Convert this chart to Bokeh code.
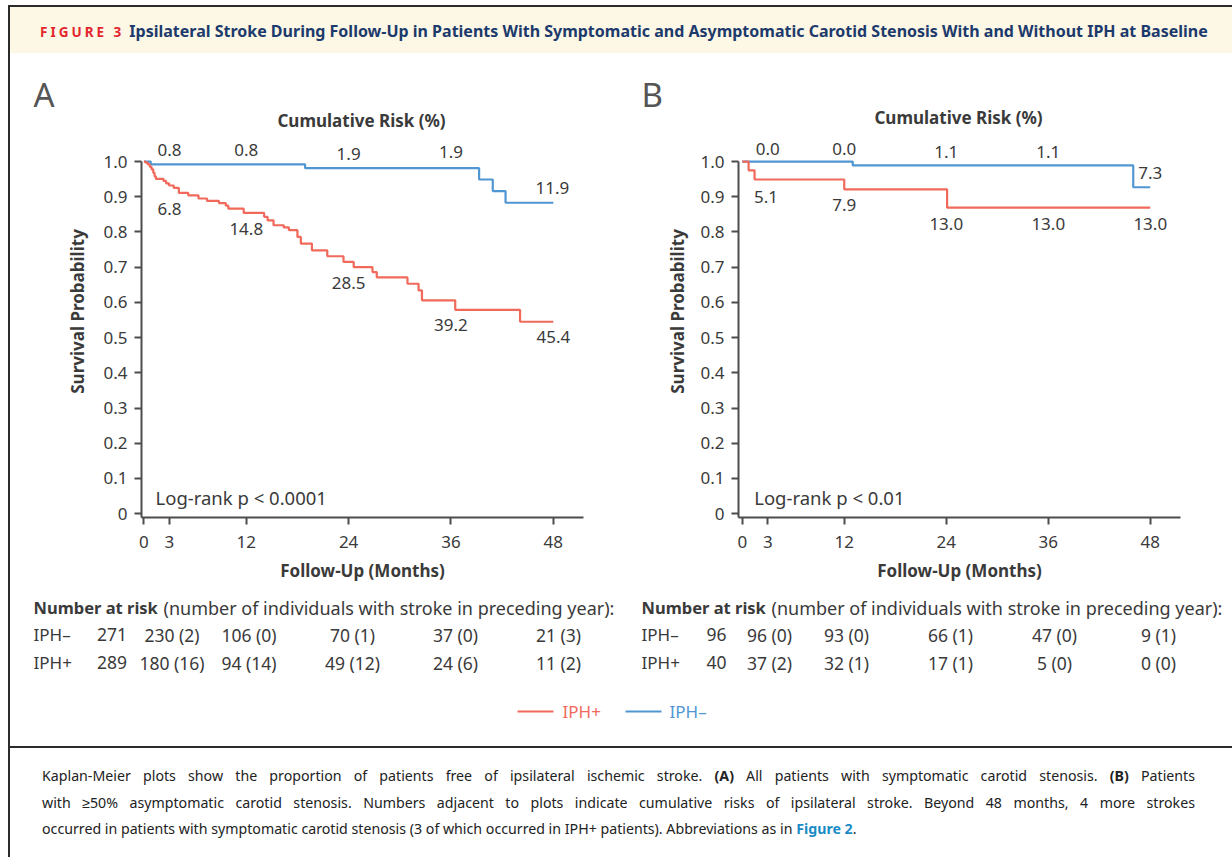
import math
from bokeh.plotting import figure
from bokeh.models import Range1d, FixedTicker, Div
from bokeh.layouts import column, row
from bokeh.embed import file_html
from bokeh.resources import INLINE
from bokeh.core.properties import value

# ---------------- data ----------------
month_ticks = [0, 3, 12, 24, 36, 48]
surv_ticks = [0, 0.1, 0.2, 0.3, 0.4, 0.5, 0.6, 0.7, 0.8, 0.9, 1.0]

# Panel A: symptomatic carotid stenosis (Kaplan-Meier step estimates)
a_pos_time = [0, 0.2, 0.45, 0.7, 0.9, 1.1, 1.25, 1.4, 2.3, 2.6, 2.95, 3.5, 4.1, 5.2, 6.4,
              7.4, 8.8, 9.6, 9.9, 11.7, 14.1, 14.5, 15.2, 16.4, 17.0, 18.0, 18.4, 19.7,
              21.5, 23.4, 24.6, 26.8, 27.3, 30.9, 32.2, 32.6, 36.5, 44.1, 48]
a_pos_surv = [1.0, 0.997, 0.992, 0.985, 0.978, 0.968, 0.958, 0.951, 0.945, 0.938, 0.932,
              0.925, 0.911, 0.904, 0.895, 0.888, 0.882, 0.875, 0.866, 0.854, 0.843, 0.833,
              0.819, 0.813, 0.805, 0.786, 0.767, 0.748, 0.731, 0.715, 0.700, 0.686, 0.671,
              0.653, 0.634, 0.606, 0.579, 0.545, 0.545]
a_neg_time = [0, 0.8, 18.9, 39.3, 40.9, 42.4, 48]
a_neg_surv = [1.0, 0.992, 0.981, 0.949, 0.916, 0.883, 0.883]

# Panel B: asymptomatic carotid stenosis
b_pos_time = [0, 0.75, 1.45, 12.0, 24.1, 48]
b_pos_surv = [1.0, 0.975, 0.949, 0.921, 0.869, 0.869]
b_neg_time = [0, 13.0, 46.0, 48]
b_neg_surv = [1.0, 0.989, 0.927, 0.927]

# cumulative risk (%) annotations
risk_months = [3, 12, 24, 36, 48]
a_neg_risk = ["0.8", "0.8", "1.9", "1.9", "11.9"]
a_pos_risk = ["6.8", "14.8", "28.5", "39.2", "45.4"]
b_neg_risk = ["0.0", "0.0", "1.1", "1.1", "7.3"]
b_pos_risk = ["5.1", "7.9", "13.0", "13.0", "13.0"]

# numbers at risk
risk_groups = ["IPH\u2013", "IPH+"]
a_neg_at_risk = ["271", "230 (2)", "106 (0)", "70 (1)", "37 (0)", "21 (3)"]
a_pos_at_risk = ["289", "180 (16)", "94 (14)", "49 (12)", "24 (6)", "11 (2)"]
b_neg_at_risk = ["96", "96 (0)", "93 (0)", "66 (1)", "47 (0)", "9 (1)"]
b_pos_at_risk = ["40", "37 (2)", "32 (1)", "17 (1)", "5 (0)", "0 (0)"]

logrank_a = "Log-rank p < 0.0001"
logrank_b = "Log-rank p < 0.01"

# ---------------- layout / style (positions, not data) ----------------
FONT = "Noto Sans"
TXT = "#3a3a3a"
RED = "#f0695a"
BLUE = "#5096d2"
AXC = "#4d4d4d"
DARK = "#2b2b2b"

a_neg_lab_y = [1.034, 1.034, 1.020, 1.026, 0.925]
a_pos_lab_y = [0.864, 0.807, 0.655, 0.535, 0.501]
b_neg_lab_y = [1.037, 1.037, 1.027, 1.027, 0.968]
b_pos_lab_y = [0.899, 0.876, 0.824, 0.824, 0.824]
b_pos_lab_dx = [-0.2, 0, 0, 0, 0]
a_neg_lab_dx = [0, 0, 0, 0, -0.1]


def canvas(w, h, flip=True):
    p = figure(width=w, height=h, x_range=Range1d(0, w),
               y_range=Range1d(h, 0) if flip else Range1d(0, h),
               min_border=0, x_axis_type=None, y_axis_type=None,
               toolbar_location=None, output_backend="svg")
    p.outline_line_color = None
    p.grid.visible = False
    return p


def text(p, xs, ys, ts, size="16px", color=TXT, align="center", baseline="middle",
         style="normal", angle=0.0):
    p.text(x=xs, y=ys, text=ts, text_font=value(FONT), text_font_size=size,
           text_color=color, text_align=align, text_baseline=baseline,
           text_font_style=style, angle=angle)


def km_panel(w, ml, mr, x_start, px_per_month, pos, neg, pos_lab, neg_lab, logrank):
    frame_w = w - ml - mr
    p = figure(width=w, height=458,
               x_range=Range1d(x_start, x_start + frame_w / px_per_month),
               y_range=Range1d(-0.0108, 1.0654),
               min_border_left=ml, min_border_right=mr, min_border_top=6,
               min_border_bottom=73, toolbar_location=None, output_backend="svg")
    p.outline_line_color = None
    p.grid.visible = False
    p.xaxis.ticker = FixedTicker(ticks=month_ticks)
    p.yaxis.ticker = FixedTicker(ticks=surv_ticks)
    p.yaxis.major_label_overrides = {0: "0", 1: "1.0"}
    p.yaxis.bounds = (-0.0108, 1.0)
    p.xaxis.axis_label = "Follow-Up (Months)"
    for ax in p.axis:
        ax.axis_line_width = 2
        ax.axis_line_color = AXC
        ax.major_tick_line_width = 2
        ax.major_tick_line_color = AXC
        ax.major_tick_out = 7
        ax.major_tick_in = 0
        ax.minor_tick_line_color = None
        ax.major_label_text_font = FONT
        ax.major_label_text_font_size = "17px"
        ax.major_label_text_color = TXT
        ax.axis_label_text_font = FONT
        ax.axis_label_text_font_size = "17px"
        ax.axis_label_text_font_style = "bold"
        ax.axis_label_text_color = TXT
    p.xaxis.major_label_standoff = 11
    p.xaxis.axis_label_standoff = 8
    p.yaxis.major_label_standoff = 7

    p.step(neg[0], neg[1], mode="after", line_color=BLUE, line_width=2.2)
    p.step(pos[0], pos[1], mode="after", line_color=RED, line_width=2.2)

    text(p, neg_lab[0], neg_lab[1], neg_lab[2], size="17px")
    text(p, pos_lab[0], pos_lab[1], pos_lab[2], size="17px")
    text(p, [logrank[0]], [0.046], [logrank[1]], align="left", size="18.5px")
    return p


def ylabel_fig(w, x_local):
    p = canvas(w, 458, flip=False)
    text(p, [x_local], [458 - 209], ["Survival Probability"], size="17px",
         style="bold", angle=math.pi / 2)
    return p


def strip_fig(w, letter_x, title_x, title_y, letter):
    p = canvas(w, 79)
    text(p, [letter_x], [41], [letter], size="33px", color="#555555", align="left")
    text(p, [title_x], [title_y], ["Cumulative Risk (%)"], size="17px", style="bold")
    return p


def table_fig(w, left_x, cols, neg_vals, pos_vals, rest_x):
    p = canvas(w, 98)
    text(p, [left_x], [17], ["Number at risk"], align="left", style="bold", size="16.5px")
    text(p, [rest_x], [17], ["(number of individuals with stroke in preceding year):"],
         align="left", size="18px")
    text(p, [left_x, left_x], [44, 72], risk_groups, align="left", size="17px")
    text(p, cols, [44] * len(cols), neg_vals, size="17.5px")
    text(p, cols, [72] * len(cols), pos_vals, size="17.5px")
    return p


# ---- panel A ----
stripA = strip_fig(610, 23, 351, 67, "A")
ylabA = ylabel_fig(80, 67)
kmA = km_panel(530, 51, 37, -0.28, 8.53,
               (a_pos_time, a_pos_surv), (a_neg_time, a_neg_surv),
               ([m for m in risk_months], a_pos_lab_y, a_pos_risk),
               ([m + d for m, d in zip(risk_months, a_neg_lab_dx)], a_neg_lab_y, a_neg_risk),
               (1.36, logrank_a))
tableA = table_fig(610, 23, [101.5, 161.5, 238.5, 342, 445, 548],
                   a_neg_at_risk, a_pos_at_risk, 153)
colA = column(stripA, row(ylabA, kmA), tableA)

# ---- panel B ----
stripB = strip_fig(612, 21, 338, 64, "B")
ylabB = ylabel_fig(70, 57)
kmB = km_panel(542, 48, 52, -0.44, 8.5,
               (b_pos_time, b_pos_surv), (b_neg_time, b_neg_surv),
               ([m + d for m, d in zip(risk_months, b_pos_lab_dx)], b_pos_lab_y, b_pos_risk),
               (risk_months, b_neg_lab_y, b_neg_risk),
               (1.41, logrank_b))
tableB = table_fig(612, 21, [96, 149, 226, 330, 434, 538],
                   b_neg_at_risk, b_pos_at_risk, 151)
colB = column(stripB, row(ylabB, kmB), tableB)

# ---- legend ----
leg = canvas(1222, 58)
leg.segment(x0=[507, 615], y0=[23, 23], x1=[543, 651], y1=[23, 23],
            line_color=[RED, BLUE], line_width=2)
text(leg, [552], [23], ["IPH+"], color=RED, align="left", size="17px")
text(leg, [659], [23], ["IPH\u2013"], color=BLUE, align="left", size="17px")

body = column(row(colA, colB), leg)
border = Div(text='<div style="width:2px;height:693px;background:' + DARK + '"></div>',
             width=2, height=693, margin=0)

header_html = (
    '<div style="box-sizing:border-box;width:1224px;height:48px;background:#fdf7e6;'
    'border-top:2px solid ' + DARK + ';border-left:2px solid ' + DARK + ';padding-left:30px;'
    'padding-top:2px;line-height:44px;white-space:nowrap;font-family:\'Noto Sans\',sans-serif;">'
    '<span style="color:#e3262e;font-weight:bold;font-size:13.5px;letter-spacing:3px;">FIGURE 3</span>'
    '<span style="color:#1c3a6b;font-weight:bold;font-size:16px;margin-left:5px;">'
    'Ipsilateral Stroke During Follow-Up in Patients With Symptomatic and Asymptomatic '
    'Carotid Stenosis With and Without IPH at Baseline</span></div>'
)
header = Div(text=header_html, width=1224, height=48, margin=0)

jline = 'width:1153px;text-align:justify;text-align-last:justify;white-space:normal;'
caption_html = (
    '<div style="box-sizing:border-box;width:1224px;height:111px;border-top:2px solid ' + DARK + ';'
    'border-left:2px solid ' + DARK + ';padding:15px 0 0 32px;font-family:\'Noto Sans\',sans-serif;'
    'font-size:14.2px;line-height:26.5px;color:#222;">'
    '<div style="' + jline + '">'
    'Kaplan-Meier plots show the proportion of patients free of ipsilateral ischemic stroke. '
    '<b>(A)</b> All patients with symptomatic carotid stenosis. <b>(B)</b> Patients</div>'
    '<div style="' + jline + '">'
    'with \u226550% asymptomatic carotid stenosis. Numbers adjacent to plots indicate cumulative '
    'risks of ipsilateral stroke. Beyond 48 months, 4 more strokes</div>'
    '<div style="white-space:nowrap;">'
    'occurred in patients with symptomatic carotid stenosis (3 of which occurred in IPH+ '
    'patients). Abbreviations as in <b style="color:#1a8cc5">Figure 2</b>.</div></div>'
)
caption = Div(text=caption_html, width=1224, height=111, margin=0)

page = column(header, row(border, body), caption, margin=(5, 0, 0, 8))

open("out.html", "w").write(file_html(page, INLINE))
